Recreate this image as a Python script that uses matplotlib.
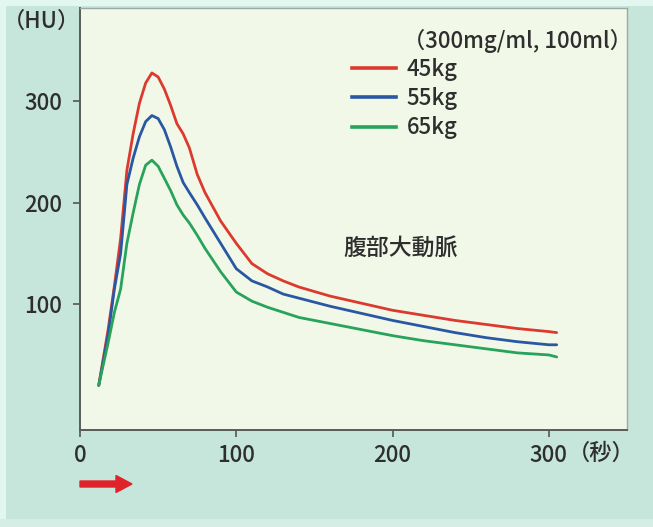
import matplotlib
matplotlib.use("Agg")
import matplotlib.pyplot as plt
from matplotlib.lines import Line2D
from matplotlib.patches import Rectangle, FancyArrow

plt.rcParams['font.family'] = ['Noto Sans CJK JP', 'DejaVu Sans']

# Time after injection start (seconds)
time_s = [12, 18, 22, 26, 30, 34, 38, 42, 46, 50, 54, 58, 62, 66, 70, 75, 80,
          90, 100, 110, 120, 130, 140, 160, 180, 200, 220, 240, 260, 280, 300, 305]

# Enhancement of the abdominal aorta (HU) by body weight
hu_45kg = [20, 75, 118, 165, 232, 268, 298, 318, 328, 324, 312, 296, 278, 268, 254, 228, 210,
           182, 160, 140, 130, 123, 117, 108, 101, 94, 89, 84, 80, 76, 73, 72]
hu_55kg = [20, 70, 115, 150, 218, 244, 265, 280, 286, 283, 272, 255, 236, 220, 210, 198, 185,
           160, 135, 123, 117, 110, 106, 98, 91, 84, 78, 72, 67, 63, 60, 60]
hu_65kg = [20, 62, 92, 115, 160, 190, 218, 237, 242, 236, 224, 212, 198, 188, 180, 168, 155,
           132, 112, 103, 97, 92, 87, 81, 75, 69, 64, 60, 56, 52, 50, 48]

series_labels = ["45kg", "55kg", "65kg"]
series_colors = ["#dc3a2e", "#2a57a3", "#27a35c"]
x_ticks = [0, 100, 200, 300]
y_ticks = [100, 200, 300]

W, H = 653, 527
FS = 16
TXT = "#2e2e2e"
fig = plt.figure(figsize=(W / 100, H / 100), dpi=100, facecolor="#c6e5db")

# light border strips along the panel edges
fig.patches.append(Rectangle((0, 0), 6 / W, 1, transform=fig.transFigure,
                             facecolor="#e2f7ef", edgecolor="none", zorder=0))
fig.patches.append(Rectangle((0, 0), 1, 8 / H, transform=fig.transFigure,
                             facecolor="#d4eee6", edgecolor="none", zorder=0))
fig.patches.append(Rectangle((0, 1 - 6 / H), 1, 6 / H, transform=fig.transFigure,
                             facecolor="#e2f7ef", edgecolor="none", zorder=0))

left, right, top, bottom = 80, 627, 8, 430
ax = fig.add_axes([left / W, 1 - bottom / H, (right - left) / W, (bottom - top) / H])
ax.set_facecolor("#f2f8e8")

for hu, color in zip([hu_45kg, hu_55kg, hu_65kg], series_colors):
    ax.plot(time_s, hu, color=color, lw=2.0, solid_capstyle="round", solid_joinstyle="round")

ax.set_xlim(0, 350)
ax.set_ylim(-24, 392)
ax.set_xticks(x_ticks)
ax.set_yticks(y_ticks)
ax.tick_params(axis="both", direction="out", length=5, width=1.2, color="#555555",
               labelsize=FS, labelcolor=TXT)
ax.tick_params(axis="x", pad=5)
ax.tick_params(axis="y", pad=8)
for lbl in ax.get_xticklabels() + ax.get_yticklabels():
    lbl.set_fontweight("medium")

for side in ["left", "bottom"]:
    ax.spines[side].set_color("#5a5a5a")
    ax.spines[side].set_linewidth(1.4)
for side in ["top", "right"]:
    ax.spines[side].set_color("#9aaaa4")
    ax.spines[side].set_linewidth(1.0)

# legend
handles = [Line2D([0], [0], color=c, lw=2.6) for c in series_colors]
leg = ax.legend(handles, series_labels, loc="upper left",
                bbox_to_anchor=((352 - left) / (right - left), 1 - (58 - top) / (bottom - top)),
                frameon=False, prop={"size": FS, "weight": "medium"},
                handlelength=2.0, handletextpad=0.45,
                labelspacing=0.28, borderpad=0, borderaxespad=0)
for t in leg.get_texts():
    t.set_color(TXT)

ax.text((403 - left) / (right - left), 1 - (41 - top) / (bottom - top),
        "（300mg/ml, 100ml）", transform=ax.transAxes, ha="left", va="center",
        fontsize=FS, fontweight="medium", color=TXT)

ax.text(205, 155, "腹部大動脈", ha="center", va="center", fontsize=16.5,
        fontweight="medium", color=TXT)

# axis unit labels
fig.text(42 / W, 1 - 21 / H, "（HU）", ha="center", va="center", fontsize=FS,
         fontweight="medium", color=TXT)
fig.text(601 / W, 1 - 453 / H, "（秒）", ha="center", va="center", fontsize=FS,
         fontweight="medium", color=TXT)

# injection arrow
fig.patches.append(FancyArrow(80 / W, 1 - 484 / H, 52 / W, 0, width=6 / H,
                              head_width=17 / H, head_length=16 / W, length_includes_head=True,
                              transform=fig.transFigure, color="#e0232a", zorder=3))

fig.savefig("out.png", dpi=100, facecolor=fig.get_facecolor())
